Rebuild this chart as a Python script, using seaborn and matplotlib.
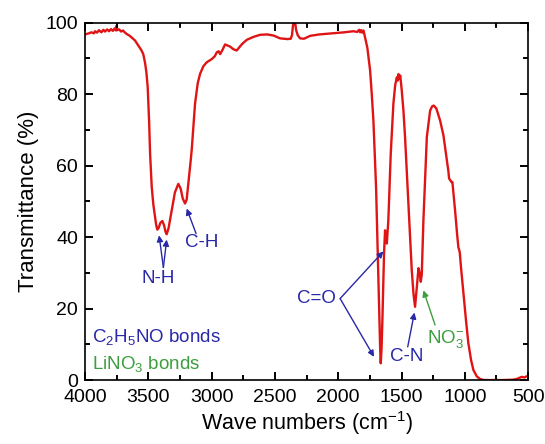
import matplotlib
matplotlib.use("Agg")
import matplotlib.pyplot as plt
import seaborn as sns
import pandas as pd
from matplotlib.ticker import MultipleLocator, FixedLocator

wavenumber = [4000, 3970, 3950, 3930, 3921, 3905, 3890, 3870, 3855, 3842, 3825, 3810, 3795, 3780,
              3765, 3755, 3750, 3745, 3730, 3715, 3700, 3684, 3670, 3650, 3630, 3605, 3579,
              3555, 3540, 3526, 3515, 3505, 3494, 3486, 3473, 3460, 3447, 3438, 3429, 3418,
              3405, 3389, 3375, 3365, 3355, 3340, 3315, 3290, 3263, 3245, 3228, 3210, 3197,
              3184, 3165, 3157, 3131, 3110, 3091, 3065, 3039, 2999, 2975, 2959, 2945, 2933,
              2915, 2894, 2875, 2854, 2830, 2802, 2760, 2722, 2670, 2617, 2560, 2512, 2459,
              2400, 2375, 2365, 2358, 2354, 2348, 2340, 2333, 2320, 2301, 2270, 2222, 2150,
              2050, 1950, 1880, 1850, 1835, 1827, 1818, 1810, 1800, 1788, 1770, 1748, 1735,
              1722, 1712, 1701, 1688, 1675, 1668, 1664, 1658, 1651, 1638, 1630, 1622, 1616,
              1604, 1585, 1564, 1550, 1537, 1530, 1524, 1517, 1510, 1498, 1485, 1472, 1446,
              1419, 1405, 1393, 1385, 1379, 1366, 1357, 1348, 1340, 1327, 1300, 1274, 1258,
              1245, 1225, 1195, 1169, 1142, 1130, 1124, 1116, 1105, 1098, 1077, 1060, 1051,
              1040, 1030, 1011, 990, 972, 950, 932, 905, 879, 850, 800, 700, 620, 590, 570,
              550, 530, 515, 500]
transmittance = [96.7, 97.0, 97.3, 97.0, 97.6, 97.2, 97.9, 97.3, 98.0, 97.5, 98.1, 97.6, 98.2, 97.7,
                 98.4, 97.8, 99.2, 97.9, 98.1, 97.5, 97.8, 97.2, 96.8, 96.4, 95.8, 95.0, 93.6,
                 92.3, 91.2, 88.8, 86.0, 82.0, 72.6, 63.4, 54.0, 49.0, 45.6, 43.4, 42.1, 42.6,
                 44.0, 44.5, 43.2, 41.6, 40.8, 42.5, 47.5, 52.5, 54.9, 53.6, 50.8, 49.4, 50.5,
                 54.9, 61.5, 64.5, 77.3, 83.0, 85.7, 87.8, 88.9, 89.8, 90.6, 91.7, 92.0, 91.2,
                 92.3, 93.9, 93.6, 93.3, 92.6, 92.2, 94.0, 95.2, 96.0, 96.6, 96.7, 96.4, 95.6,
                 95.4, 95.5, 96.5, 99.0, 100.0, 99.6, 100.0, 98.0, 96.5, 95.6, 95.5, 96.3, 96.7,
                 97.0, 97.3, 97.6, 97.4, 98.0, 97.3, 97.9, 97.2, 97.8, 95.9, 93.0, 86.6, 80.0,
                 72.6, 64.0, 54.0, 35.4, 16.8, 8.0, 4.7, 8.5, 16.8, 35.4, 41.9, 39.0, 38.2,
                 44.7, 63.4, 77.4, 82.5, 84.7, 83.8, 85.6, 84.3, 85.2, 81.0, 75.5, 68.0, 49.4,
                 30.7, 24.0, 20.5, 23.5, 26.0, 31.3, 30.0, 27.5, 29.5, 44.7, 68.0, 75.4, 76.6,
                 76.8, 76.0, 72.6, 68.5, 61.5, 58.5, 56.4, 56.0, 55.4, 55.4, 47.5, 40.5, 37.2,
                 35.8, 31.5, 24.3, 16.5, 10.3, 5.5, 2.8, 1.0, 0.3, 0.0, 0.0, 0.0, 0.1, 0.3,
                 0.6, 0.9, 0.7, 1.0, 1.1]

x_ticks = [4000, 3500, 3000, 2500, 2000, 1500, 1000, 500]
x_minor_ticks = [3750, 3250, 2750, 2250, 1750, 1250, 750]
y_ticks = [0, 20, 40, 60, 80, 100]
y_minor_ticks = [10, 30, 50, 70, 90]

sns.set_theme(style="ticks", rc={
    "axes.linewidth": 1.2, "axes.edgecolor": "black", "axes.axisbelow": False,
    "xtick.direction": "in", "ytick.direction": "in",
    "xtick.top": True, "ytick.right": True,
    "xtick.color": "black", "ytick.color": "black",
    "xtick.major.size": 6, "ytick.major.size": 6,
    "xtick.minor.size": 3.5, "ytick.minor.size": 3.5,
    "xtick.major.width": 1.2, "ytick.major.width": 1.2,
    "xtick.minor.width": 1.2, "ytick.minor.width": 1.2,
    "xtick.labelsize": 14, "ytick.labelsize": 14,
    "xtick.major.pad": 6.5, "ytick.major.pad": 5,
})
plt.rcParams['font.family'] = ['Liberation Sans', 'DejaVu Sans']
plt.rcParams['mathtext.default'] = 'regular'

df = pd.DataFrame({"wn": wavenumber, "T": transmittance})

fig = plt.figure(figsize=(5.45, 4.44), dpi=100)
ax = fig.add_axes([0.156, 0.144, 0.813, 0.805])

blue = "#2828a8"
green = "#3d9e3d"
ap_b = dict(arrowstyle='-|>', color=blue, lw=1.0, mutation_scale=9, shrinkA=0, shrinkB=0)
ap_g = dict(arrowstyle='-|>', color=green, lw=1.0, mutation_scale=9, shrinkA=0, shrinkB=0)
fs = 13.5

sns.lineplot(data=df, x="wn", y="T", ax=ax, color="#e01414", linewidth=1.7, sort=False)
ax.set_xlim(4000, 500)
ax.set_ylim(0, 100)

ax.text(3421, 28.4, "N-H", color=blue, fontsize=fs, ha='center', va='center')
ax.annotate("", xy=(3415, 40.5), xytext=(3381, 31.5), arrowprops=ap_b)
ax.annotate("", xy=(3355, 39.3), xytext=(3381, 31.5), arrowprops=ap_b)

ax.text(3079, 38.4, "C-H", color=blue, fontsize=fs, ha='center', va='center')
ax.annotate("", xy=(3197, 48), xytext=(3123, 41), arrowprops=ap_b)

ax.text(2169, 22.8, "C=O", color=blue, fontsize=fs, ha='center', va='center')
ax.annotate("", xy=(1643, 36), xytext=(1985, 22.8), arrowprops=ap_b)
ax.annotate("", xy=(1717, 6.5), xytext=(1985, 22.8), arrowprops=ap_b)

ax.text(1459, 6.5, "C-N", color=blue, fontsize=fs, ha='center', va='center')
ax.annotate("", xy=(1398, 18.9), xytext=(1451, 9.3), arrowprops=ap_b)

ax.text(1300, 11.4, "NO$_3^{-}$", color=green, fontsize=fs, ha='left', va='center')
ax.annotate("", xy=(1327, 25.1), xytext=(1235, 15.4), arrowprops=ap_g)

ax.text(3947, 12.1, "C$_2$H$_5$NO bonds", color=blue, fontsize=fs, ha='left', va='center')
ax.text(3947, 4.6, "LiNO$_3$ bonds", color=green, fontsize=fs, ha='left', va='center')

ax.set_xlabel("Wave numbers (cm$^{-1}$)", fontsize=15.5, labelpad=2, color='black')
ax.set_ylabel("Transmittance (%)", fontsize=16, labelpad=5, color='black')

ax.xaxis.set_major_locator(FixedLocator(x_ticks))
ax.yaxis.set_major_locator(FixedLocator(y_ticks))
ax.xaxis.set_minor_locator(MultipleLocator(250))
ax.yaxis.set_minor_locator(MultipleLocator(10))
ax.tick_params(axis='both', which='both', direction='in', top=True, right=True,
               bottom=True, left=True, labeltop=False, labelright=False,
               color='black', width=1.2)
ax.tick_params(axis='both', which='major', length=6)
ax.tick_params(axis='both', which='minor', length=3.5)

# explicit inward tick marks on all four sides (fallback so they always render)
xt = ax.get_xaxis_transform()
yt = ax.get_yaxis_transform()
maj_x, min_x = 0.023, 0.0135
maj_y, min_y = 0.0188, 0.011
tick_kw = dict(colors='black', linewidth=1.2, clip_on=False, zorder=4)
ax.vlines(x_ticks, 0, maj_x, transform=xt, **tick_kw)
ax.vlines(x_ticks, 1 - maj_x, 1, transform=xt, **tick_kw)
ax.vlines(x_minor_ticks, 0, min_x, transform=xt, **tick_kw)
ax.vlines(x_minor_ticks, 1 - min_x, 1, transform=xt, **tick_kw)
ax.hlines(y_ticks, 0, maj_y, transform=yt, **tick_kw)
ax.hlines(y_ticks, 1 - maj_y, 1, transform=yt, **tick_kw)
ax.hlines(y_minor_ticks, 0, min_y, transform=yt, **tick_kw)
ax.hlines(y_minor_ticks, 1 - min_y, 1, transform=yt, **tick_kw)
ax.set_xlim(4000, 500)
ax.set_ylim(0, 100)

fig.savefig("out.png", dpi=100)
